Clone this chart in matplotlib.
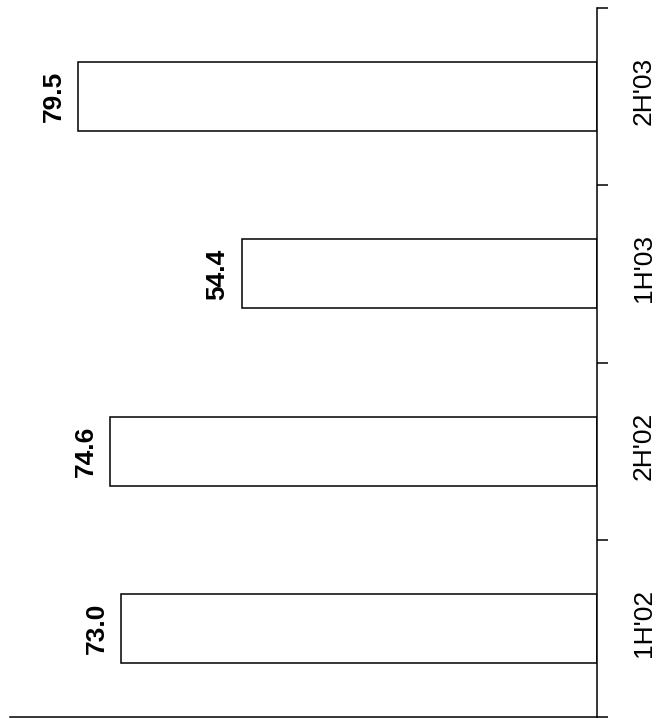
import matplotlib.pyplot as plt

plt.rcParams['font.family'] = ['Liberation Sans', 'DejaVu Sans']

periods = ["1H'02", "2H'02", "1H'03", "2H'03"]
values = [73.0, 74.6, 54.4, 79.5]

fig = plt.figure(figsize=(6.64, 7.19), dpi=100)
ax = fig.add_axes([10 / 664, 2 / 719, 587 / 664, 709 / 719])

pos = list(range(len(periods)))
ax.barh(pos, values, height=0.39, color='white', edgecolor='black', linewidth=1.1)

ax.set_xlim(90, 0)
ax.set_ylim(-0.5, len(periods) - 0.5)

# value labels, rotated like the rest of the page
for i, v in enumerate(values):
    ax.annotate("%.1f" % v, (v, i), xytext=(-9, 0), textcoords='offset points',
                rotation=90, ha='right', va='center', fontsize=19, fontweight='bold')

# category labels to the right of the axis
for i, name in enumerate(periods):
    ax.annotate(name, (0, i), xytext=(25, 4), textcoords='offset points',
                rotation=90, ha='left', va='center', fontsize=19, annotation_clip=False)

ax.spines['top'].set_visible(False)
ax.spines['left'].set_visible(False)
ax.spines['right'].set_linewidth(1.1)
ax.spines['bottom'].set_linewidth(1.1)

ax.set_xticks([])
ax.yaxis.tick_right()
ax.set_yticks([p - 0.5 for p in pos] + [len(periods) - 0.5])
ax.set_yticklabels([])
ax.tick_params(axis='y', direction='out', length=8, width=1.1, right=True, left=False)

fig.savefig('out.png', dpi=100)
